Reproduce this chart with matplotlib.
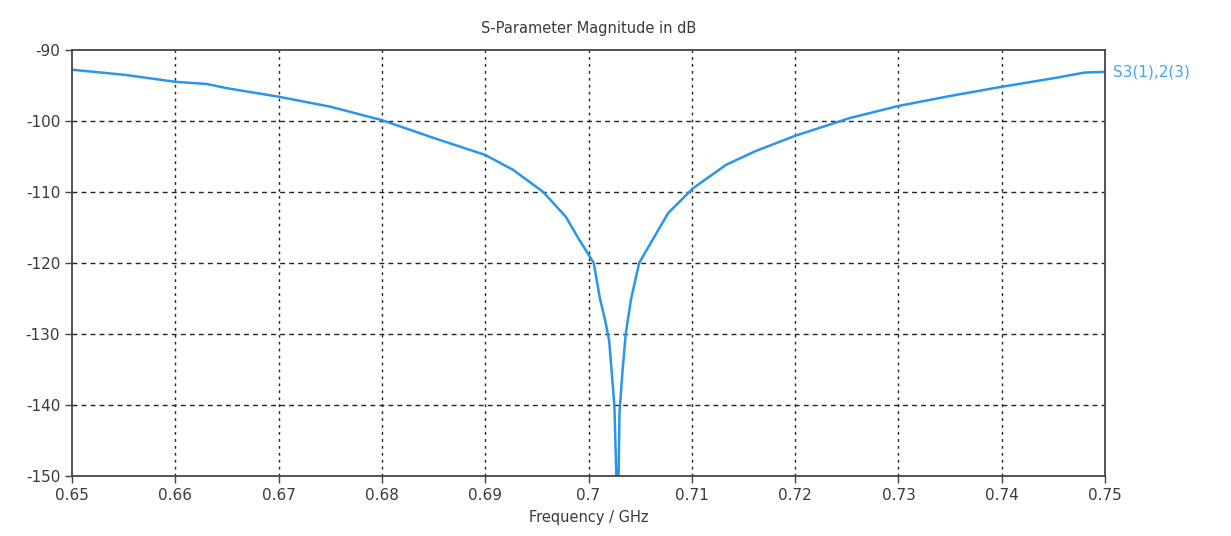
import numpy as np
import matplotlib.pyplot as plt

# S-parameter magnitude
freq_ghz = [0.650, 0.655, 0.660, 0.663, 0.665, 0.670, 0.675, 0.680, 0.685,
            0.690, 0.6927, 0.6956, 0.6978, 0.699, 0.7005, 0.7011, 0.7016, 0.702,
            0.7025, 0.7027, 0.7029, 0.7030, 0.7033, 0.7036, 0.7041, 0.7049,
            0.7063, 0.7077, 0.7101, 0.7133, 0.7161, 0.720, 0.7253, 0.730, 0.735,
            0.740, 0.745, 0.748, 0.750]
s_db = [-92.8, -93.5, -94.5, -94.8, -95.4, -96.6, -98.0, -99.9, -102.4,
        -104.8, -106.9, -110.0, -113.5, -116.5, -120.0, -125.0, -128.0, -131.0,
        -140.0, -150.5, -150.5, -141.0, -135.0, -130.0, -125.2, -120.0,
        -116.5, -113.0, -109.5, -106.2, -104.3, -102.1, -99.6, -97.9, -96.5,
        -95.2, -94.0, -93.2, -93.1]
x_ticks = [0.65, 0.66, 0.67, 0.68, 0.69, 0.70, 0.71, 0.72, 0.73, 0.74, 0.75]
x_labels = ["0.65", "0.66", "0.67", "0.68", "0.69", "0.7", "0.71", "0.72", "0.73", "0.74", "0.75"]
y_ticks = [-150, -140, -130, -120, -110, -100, -90]
series_name = "S3(1),2(3)"

plt.rcParams["axes.unicode_minus"] = False

fig = plt.figure(figsize=(12.31, 5.36), dpi=100)
ax = fig.add_axes([0.0585, 0.112, 0.8392, 0.795])
ax.set_axisbelow(True)

ax.plot(freq_ghz, s_db, color="#2b95e9", lw=1.8)
ax.set_xlim(0.65, 0.75)
ax.set_ylim(-150, -90)
ax.set_xticks(x_ticks)
ax.set_xticklabels(x_labels)
ax.set_yticks(y_ticks)
# vertical grid dotted, horizontal grid short dashes
ax.grid(True, axis="x", color="#222222", linestyle=(0, (2, 3)), linewidth=1.0)
ax.grid(True, axis="y", color="#222222", linestyle=(0, (3.5, 3)), linewidth=1.0)
# no dotted grid on top of the frame
xg = ax.get_xgridlines()
yg = ax.get_ygridlines()
for g in (xg[0], xg[-1], yg[0], yg[-1]):
    g.set_visible(False)
ax.tick_params(direction="out", length=5, width=1, colors="#444444",
               labelcolor="#3a3a3a", labelsize=11)
for s in ax.spines.values():
    s.set_color("#444444")
    s.set_linewidth(1.3)

ax.set_xlabel("Frequency / GHz", fontsize=10.5, color="#3a3a3a", labelpad=5)
ax.set_title("S-Parameter Magnitude in dB", fontsize=10.5, color="#3a3a3a", pad=12)
ax.text(1.008, s_db[-1], series_name, transform=ax.get_yaxis_transform(),
        color="#4aa3ee", fontsize=11, va="center", ha="left")

fig.savefig("out.png", dpi=100)
